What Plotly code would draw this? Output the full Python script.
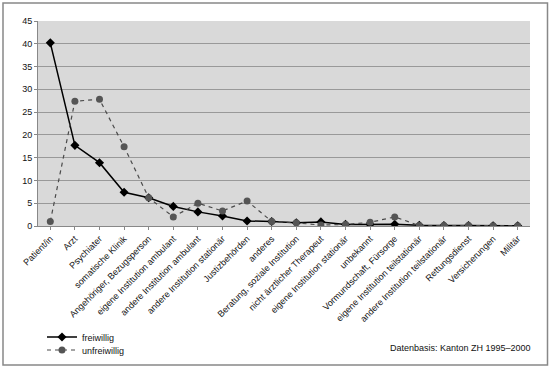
import plotly.graph_objects as go

categories = [
    "Patient/in", "Arzt", "Psychiater", "somatische Klinik",
    "Angehöriger, Bezugsperson", "eigene Institution ambulant",
    "andere Institution ambulant", "andere Institution stationär",
    "Justizbehörden", "anderes", "Beratung, soziale Institution",
    "nicht ärztlicher Therapeut", "eigene Institution stationär",
    "unbekannt", "Vormundschaft, Fürsorge",
    "eigene Institution teilstationär", "andere Institution teilstationär",
    "Rettungsdienst", "Versicherungen", "Militär",
]
freiwillig = [40.2, 17.7, 13.9, 7.4, 6.2, 4.3, 3.1, 2.2, 1.1, 1.0,
              0.7, 0.9, 0.35, 0.35, 0.4, 0.15, 0.1, 0.1, 0.05, 0.05]
unfreiwillig = [1.0, 27.4, 27.8, 17.4, 6.2, 2.0, 5.0, 3.3, 5.5, 1.0,
                0.7, 0.2, 0.35, 0.8, 2.0, 0.1, 0.1, 0.1, 0.05, 0.05]
y_ticks = [0, 5, 10, 15, 20, 25, 30, 35, 40, 45]

W, H = 550, 371
L, R, T, B = 38, 530, 21, 226
pw, ph = R - L, B - T

def px(x):
    return (x - L) / pw

def py(y):
    return (B - y) / ph

fig = go.Figure()
fig.add_trace(go.Scatter(
    x=categories, y=freiwillig, name="freiwillig", mode="lines+markers",
    line=dict(color="#000000", width=1.5),
    marker=dict(symbol="diamond", size=7, color="#000000"),
    legend="legend",
))
fig.add_trace(go.Scatter(
    x=categories, y=unfreiwillig, name="unfreiwillig", mode="lines+markers",
    line=dict(color="#4a4a4a", width=1.2, dash="4px,4px"),
    marker=dict(symbol="circle", size=7, color="#555555"),
    legend="legend2",
))

legend_common = dict(xanchor="left", yanchor="middle",
                     bgcolor="rgba(0,0,0,0)", font=dict(size=9, color="#111111"))

fig.update_layout(
    width=W, height=H,
    margin=dict(l=L, r=W - R, t=T, b=H - B, autoexpand=False),
    paper_bgcolor="#ffffff",
    plot_bgcolor="#d9d9d9",
    font=dict(family="Liberation Sans, Arial, sans-serif", size=9, color="#111111"),
    showlegend=True,
    legend=dict(x=px(42), y=py(337), **legend_common),
    legend2=dict(x=px(42), y=py(350), **legend_common),
    xaxis=dict(
        type="category", tickangle=-45, tickfont=dict(size=9, color="#111111"),
        automargin=False,
        showgrid=False, showline=True, linecolor="#888888", linewidth=1,
        ticks="outside", ticklen=3, tickcolor="#888888",
        range=[-0.5, len(categories) - 0.5],
    ),
    yaxis=dict(
        range=[0, 45], tickvals=y_ticks, showgrid=True, automargin=False,
        gridcolor="#999999", gridwidth=1,
        showline=True, linecolor="#888888", linewidth=1,
        ticks="outside", ticklen=3, tickcolor="#888888",
        tickfont=dict(size=9, color="#111111"), zeroline=False,
    ),
    shapes=[dict(
        type="rect", xref="paper", yref="paper",
        x0=px(3), x1=px(547.5), y0=py(365), y1=py(3),
        line=dict(color="#888888", width=1.5), fillcolor="rgba(0,0,0,0)",
        layer="below",
    )],
    annotations=[dict(
        text="Datenbasis: Kanton ZH 1995–2000", xref="paper", yref="paper",
        x=px(533), y=py(348), xanchor="right", yanchor="middle",
        showarrow=False, font=dict(size=9, color="#111111"),
    )],
)

fig.write_html("out.html", config={"displayModeBar": False},
               post_script="document.body.style.margin='0';")
